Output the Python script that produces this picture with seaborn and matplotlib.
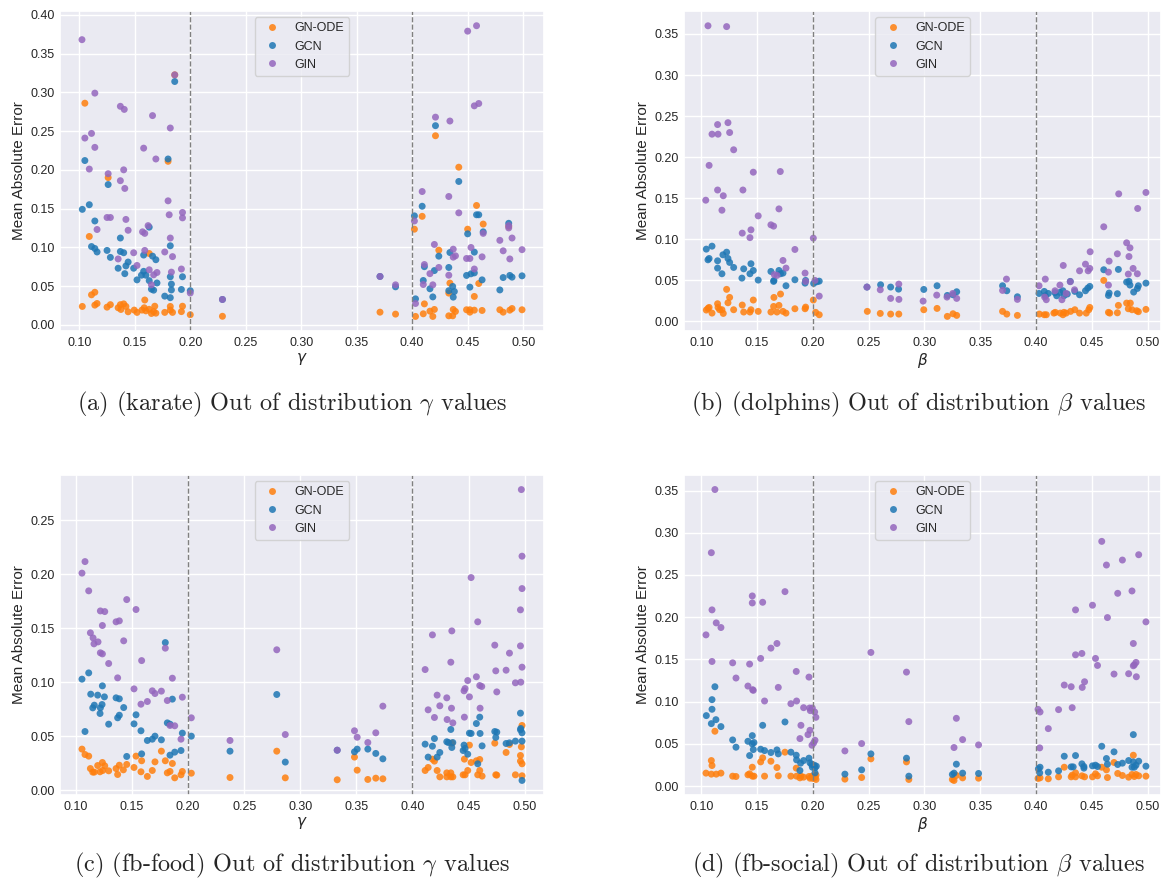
import numpy as np
import pandas as pd
import seaborn as sns
import matplotlib
matplotlib.use('Agg')
from matplotlib import pyplot as plt

# =============================================================================
# data (x = gamma / beta, y = mean absolute error)
# =============================================================================
karate_gnode = [(0.186, 0.3226), (0.105, 0.286), (0.180, 0.211), (0.126, 0.190), (0.109, 0.114), (0.163, 0.092),
                (0.111, 0.0387), (0.114, 0.042), (0.159, 0.032), (0.1027, 0.0237), (0.114, 0.0254), (0.116, 0.0275),
                (0.125, 0.0228), (0.128, 0.026), (0.135, 0.022), (0.137, 0.026), (0.140, 0.027), (0.142, 0.0237),
                (0.1375, 0.0198), (0.144, 0.0168), (0.1495, 0.019), (0.152, 0.016), (0.1565, 0.019), (0.1585, 0.022),
                (0.160, 0.018), (0.163, 0.020), (0.167, 0.017), (0.168, 0.024), (0.169, 0.015), (0.165, 0.0146),
                (0.177, 0.016), (0.182, 0.019), (0.182, 0.0237), (0.184, 0.016), (0.192, 0.017), (0.193, 0.024),
                (0.200, 0.013), (0.229, 0.011),
                (0.421, 0.244), (0.442, 0.2034), (0.458, 0.154), (0.409, 0.140), (0.402, 0.1234), (0.464, 0.130),
                (0.450, 0.1234), (0.487, 0.127), (0.424, 0.0963), (0.434, 0.0538), (0.460, 0.0533), (0.433, 0.0409),
                (0.456, 0.0366), (0.411, 0.027), (0.371, 0.0163), (0.385, 0.0138), (0.403, 0.0108), (0.410, 0.0142),
                (0.416, 0.0176), (0.4186, 0.0108), (0.420, 0.0198), (0.433, 0.0116), (0.4365, 0.0116), (0.437, 0.0198),
                (0.439, 0.0172), (0.449, 0.0194), (0.452, 0.0163), (0.452, 0.0194), (0.456, 0.0189), (0.463, 0.0185),
                (0.479, 0.0194), (0.482, 0.0163), (0.488, 0.0189), (0.490, 0.021), (0.499, 0.0194)]
karate_gcn = [(0.186, 0.314), (0.105, 0.212), (0.180, 0.214), (0.126, 0.181), (0.1027, 0.149), (0.109, 0.155),
              (0.114, 0.134), (0.137, 0.112), (0.111, 0.101), (0.114, 0.0985), (0.116, 0.094), (0.125, 0.096),
              (0.128, 0.087), (0.137, 0.0946), (0.140, 0.093), (0.158, 0.090), (0.166, 0.0886), (0.169, 0.084),
              (0.163, 0.126), (0.182, 0.102), (0.144, 0.081), (0.142, 0.076), (0.135, 0.073), (0.149, 0.073),
              (0.141, 0.066), (0.158, 0.069), (0.156, 0.064), (0.160, 0.064), (0.163, 0.057), (0.170, 0.054),
              (0.152, 0.058), (0.182, 0.062), (0.193, 0.062), (0.183, 0.0525), (0.183, 0.045), (0.192, 0.0456),
              (0.165, 0.046), (0.167, 0.0447), (0.200, 0.044), (0.177, 0.037), (0.182, 0.035), (0.229, 0.0327),
              (0.421, 0.257), (0.442, 0.185), (0.409, 0.153), (0.402, 0.1406), (0.458, 0.142), (0.460, 0.142),
              (0.450, 0.1174), (0.464, 0.120), (0.487, 0.131), (0.456, 0.0938), (0.434, 0.0933), (0.424, 0.0886),
              (0.411, 0.075), (0.420, 0.070), (0.433, 0.074), (0.449, 0.0637), (0.453, 0.0658), (0.456, 0.067),
              (0.463, 0.058), (0.482, 0.061), (0.488, 0.0637), (0.490, 0.0615), (0.499, 0.0632), (0.410, 0.0572),
              (0.416, 0.0465), (0.4365, 0.0495), (0.438, 0.043), (0.433, 0.044), (0.452, 0.0486), (0.479, 0.045),
              (0.4186, 0.036), (0.437, 0.0357), (0.403, 0.0335), (0.371, 0.0624), (0.385, 0.049)]
karate_gin = [(0.1024, 0.368), (0.186, 0.3226), (0.114, 0.299), (0.137, 0.282), (0.1405, 0.278), (0.166, 0.270),
              (0.182, 0.254), (0.105, 0.241), (0.111, 0.247), (0.114, 0.229), (0.158, 0.228), (0.169, 0.214),
              (0.109, 0.201), (0.126, 0.195), (0.140, 0.200), (0.137, 0.186), (0.141, 0.176), (0.180, 0.160),
              (0.193, 0.145), (0.181, 0.142), (0.193, 0.138), (0.125, 0.1385), (0.128, 0.1385), (0.142, 0.136),
              (0.116, 0.123), (0.144, 0.122), (0.162, 0.128), (0.157, 0.120), (0.159, 0.118), (0.182, 0.112),
              (0.159, 0.096), (0.135, 0.085), (0.149, 0.093), (0.177, 0.094), (0.184, 0.088), (0.152, 0.0766),
              (0.163, 0.071), (0.170, 0.0675), (0.167, 0.0645), (0.183, 0.068), (0.192, 0.072), (0.165, 0.0516),
              (0.200, 0.041), (0.229, 0.0327),
              (0.450, 0.379), (0.458, 0.386), (0.456, 0.2826), (0.460, 0.2856), (0.421, 0.268), (0.434, 0.263),
              (0.409, 0.172), (0.433, 0.1656), (0.442, 0.1445), (0.402, 0.134), (0.487, 0.128), (0.487, 0.125),
              (0.464, 0.118), (0.490, 0.112), (0.479, 0.109), (0.420, 0.1037), (0.437, 0.0976), (0.499, 0.097),
              (0.453, 0.0998), (0.482, 0.0955), (0.437, 0.0873), (0.439, 0.089), (0.449, 0.0856), (0.452, 0.0856),
              (0.463, 0.0877), (0.488, 0.085), (0.411, 0.0778), (0.424, 0.074), (0.416, 0.066), (0.456, 0.072),
              (0.433, 0.064), (0.410, 0.052), (0.4186, 0.0516), (0.371, 0.0624), (0.385, 0.0516), (0.403, 0.0275)]

dolphins_gnode = [(0.1227, 0.039), (0.1045, 0.0138), (0.106, 0.0158), (0.107, 0.017), (0.1096, 0.0101), (0.1146, 0.0215),
                  (0.115, 0.017), (0.1164, 0.0142), (0.1185, 0.0142), (0.1197, 0.0097), (0.1239, 0.0227), (0.1254, 0.0292),
                  (0.129, 0.0142), (0.1367, 0.0199), (0.138, 0.0114), (0.1436, 0.0114), (0.1445, 0.0142), (0.1466, 0.026),
                  (0.151, 0.0122), (0.1624, 0.0114), (0.1648, 0.0182), (0.1651, 0.0292), (0.1678, 0.0114), (0.1696, 0.0195),
                  (0.171, 0.0333), (0.1732, 0.0122), (0.1759, 0.0101), (0.1839, 0.0154), (0.193, 0.0154), (0.1935, 0.0174),
                  (0.2004, 0.026), (0.2025, 0.011), (0.2057, 0.0081), (0.2488, 0.0122), (0.2604, 0.0097), (0.2697, 0.0089),
                  (0.277, 0.0089), (0.3113, 0.0158), (0.2994, 0.0142), (0.3205, 0.0061), (0.3256, 0.0093), (0.3289, 0.0073),
                  (0.370, 0.0122), (0.3738, 0.0089), (0.3833, 0.0073), (0.403, 0.0089), (0.4074, 0.0081), (0.4092, 0.0081),
                  (0.416, 0.0101), (0.4173, 0.011), (0.4217, 0.0101), (0.4241, 0.0081), (0.425, 0.011), (0.427, 0.0101),
                  (0.431, 0.0122), (0.4348, 0.0142), (0.439, 0.0101), (0.445, 0.0101), (0.4473, 0.0142), (0.4482, 0.017),
                  (0.4607, 0.0499), (0.4649, 0.011), (0.4661, 0.0101), (0.4729, 0.0105), (0.4738, 0.0195), (0.4812, 0.0223),
                  (0.4845, 0.0223), (0.4827, 0.0154), (0.486, 0.0142), (0.4902, 0.013), (0.4917, 0.0118), (0.4985, 0.0146)]
dolphins_gcn = [(0.1045, 0.088), (0.1096, 0.0916), (0.106, 0.075), (0.107, 0.0766), (0.1146, 0.0738), (0.1146, 0.0649),
                (0.1185, 0.058), (0.1194, 0.0811), (0.1227, 0.0843), (0.1239, 0.0766), (0.1254, 0.0718), (0.129, 0.0657),
                (0.138, 0.064), (0.1364, 0.0527), (0.1445, 0.0702), (0.1466, 0.062), (0.1436, 0.058), (0.151, 0.0503),
                (0.1624, 0.0608), (0.1651, 0.0499), (0.1648, 0.0487), (0.1696, 0.062), (0.171, 0.058), (0.1732, 0.0588),
                (0.1759, 0.0434), (0.1839, 0.0507), (0.193, 0.0466), (0.1935, 0.0499), (0.2007, 0.0462), (0.2037, 0.0483),
                (0.2057, 0.049), (0.2485, 0.0418), (0.2607, 0.0446), (0.2697, 0.0418), (0.2768, 0.0393),
                (0.2994, 0.0389), (0.3113, 0.0434), (0.3205, 0.0316), (0.3256, 0.0324), (0.3289, 0.0361), (0.370, 0.0434),
                (0.3738, 0.0373), (0.3833, 0.030), (0.4027, 0.034), (0.4074, 0.0365), (0.4083, 0.0312), (0.411, 0.034),
                (0.417, 0.0349), (0.4185, 0.0312), (0.4214, 0.0353), (0.4241, 0.0373), (0.425, 0.0312), (0.428, 0.0333),
                (0.4307, 0.0487), (0.4348, 0.0365), (0.439, 0.0324), (0.4443, 0.0373), (0.4464, 0.0405), (0.4482, 0.0426),
                (0.4607, 0.0629), (0.4649, 0.0316), (0.4655, 0.0345), (0.4738, 0.0633), (0.4729, 0.0337), (0.4812, 0.0479),
                (0.4833, 0.0487), (0.4842, 0.0442), (0.4875, 0.0357), (0.4908, 0.0401), (0.4917, 0.0434), (0.4985, 0.0466)]
dolphins_gin = [(0.106, 0.360), (0.1227, 0.359), (0.1146, 0.2397), (0.1239, 0.242), (0.1096, 0.228), (0.115, 0.228),
                (0.1254, 0.230), (0.129, 0.209), (0.107, 0.190), (0.1466, 0.1817), (0.1708, 0.1825), (0.1146, 0.160),
                (0.1197, 0.153), (0.1373, 0.160), (0.104, 0.1476), (0.1185, 0.1354), (0.151, 0.1285), (0.1696, 0.137),
                (0.1624, 0.1176), (0.1648, 0.116), (0.1367, 0.1075), (0.1445, 0.1115), (0.1436, 0.102), (0.2004, 0.1014),
                (0.1839, 0.0876), (0.1732, 0.0742), (0.1759, 0.0649), (0.1654, 0.057), (0.1678, 0.056), (0.193, 0.0588),
                (0.1935, 0.0487), (0.2057, 0.0308), (0.2019, 0.0499), (0.2485, 0.0418), (0.2604, 0.0385), (0.2697, 0.028),
                (0.2771, 0.0268), (0.277, 0.0454),
                (0.2988, 0.0247), (0.311, 0.032), (0.3202, 0.0296), (0.3253, 0.034), (0.3289, 0.028), (0.3735, 0.0515),
                (0.370, 0.0377), (0.3833, 0.0268), (0.4027, 0.0434), (0.4083, 0.0515), (0.4077, 0.0296), (0.4092, 0.0264),
                (0.417, 0.0373), (0.4214, 0.0442), (0.4244, 0.0681), (0.4232, 0.0264), (0.427, 0.034), (0.4307, 0.0483),
                (0.4345, 0.0385), (0.439, 0.0616), (0.4443, 0.0697), (0.4467, 0.0616), (0.4482, 0.0645), (0.4485, 0.0848),
                (0.4607, 0.1152), (0.4655, 0.0734), (0.4649, 0.060), (0.4649, 0.0442), (0.4729, 0.0823), (0.4741, 0.1553),
                (0.4812, 0.0957), (0.4842, 0.0896), (0.4833, 0.079), (0.487, 0.0645), (0.4908, 0.058), (0.4827, 0.0576),
                (0.4911, 0.1375), (0.4985, 0.157)]

food_gnode = [(0.1053, 0.038), (0.108, 0.033), (0.1113, 0.0315), (0.1128, 0.020), (0.1149, 0.0167), (0.1163, 0.0167),
              (0.1193, 0.0228), (0.1214, 0.017), (0.1235, 0.0256), (0.1256, 0.0225), (0.1238, 0.0182), (0.1291, 0.0179),
              (0.1357, 0.020), (0.1386, 0.0231), (0.1371, 0.0145), (0.1422, 0.0188), (0.1452, 0.0238), (0.1517, 0.021),
              (0.1535, 0.0315), (0.1585, 0.0272), (0.1579, 0.017), (0.1636, 0.0127), (0.168, 0.0182), (0.1704, 0.0262),
              (0.1761, 0.0361), (0.1796, 0.0272), (0.1814, 0.016), (0.1838, 0.0173), (0.1859, 0.0247), (0.188, 0.0114),
              (0.1936, 0.0142), (0.1948, 0.0173), (0.2028, 0.0157), (0.2373, 0.0117),
              (0.279, 0.0361), (0.2866, 0.0114), (0.3329, 0.0096), (0.3483, 0.0306), (0.3507, 0.0185), (0.3602, 0.0099),
              (0.3673, 0.0111), (0.3736, 0.0105),
              (0.4113, 0.0182), (0.414, 0.021), (0.4178, 0.0287), (0.4196, 0.0269), (0.422, 0.0182), (0.4244, 0.0123),
              (0.4306, 0.016), (0.4306, 0.0123), (0.4342, 0.016), (0.4342, 0.0123), (0.436, 0.0123), (0.4351, 0.0435),
              (0.4452, 0.0142), (0.4469, 0.0142), (0.4493, 0.0182), (0.4463, 0.0287), (0.4508, 0.0417), (0.4523, 0.0256),
              (0.457, 0.0272), (0.46, 0.0284), (0.4582, 0.0142), (0.4621, 0.013), (0.46, 0.0182), (0.4734, 0.0435),
              (0.4743, 0.0142), (0.4752, 0.0139), (0.4835, 0.0349), (0.4865, 0.0423), (0.4918, 0.0142), (0.4963, 0.0321),
              (0.4963, 0.0269), (0.4977, 0.0244), (0.4977, 0.0133), (0.4971, 0.0401), (0.4977, 0.0599)]
food_gcn = [(0.1796, 0.1367), (0.1113, 0.1086), (0.1053, 0.1028), (0.1235, 0.0966), (0.1131, 0.0889), (0.1193, 0.088),
            (0.1253, 0.0864), (0.1163, 0.0787), (0.1149, 0.0762), (0.1232, 0.0793), (0.1217, 0.0762), (0.1214, 0.071),
            (0.1357, 0.0855), (0.1386, 0.0846), (0.1425, 0.0765), (0.1386, 0.0694), (0.1371, 0.067), (0.1859, 0.0843),
            (0.1535, 0.0698), (0.1291, 0.0611), (0.1517, 0.0614), (0.108, 0.0543), (0.1579, 0.055), (0.1814, 0.0623),
            (0.1838, 0.0611), (0.1636, 0.046), (0.168, 0.0472), (0.1704, 0.050), (0.1761, 0.0466), (0.1948, 0.0528),
            (0.2028, 0.050), (0.1452, 0.0312), (0.1585, 0.0336), (0.1838, 0.0324), (0.188, 0.0352), (0.1936, 0.0367),
            (0.2373, 0.0361),
            (0.279, 0.0886), (0.2866, 0.026), (0.3329, 0.037), (0.3483, 0.0355), (0.3507, 0.038), (0.3602, 0.038),
            (0.3673, 0.034), (0.3736, 0.029),
            (0.4113, 0.0426), (0.414, 0.0306), (0.4178, 0.0407), (0.4196, 0.0478), (0.422, 0.0306), (0.4244, 0.0349),
            (0.4306, 0.0448), (0.4321, 0.0441), (0.4342, 0.0562), (0.4351, 0.0395), (0.436, 0.0441), (0.446, 0.0417),
            (0.4452, 0.0367), (0.4469, 0.0386), (0.4493, 0.0333), (0.4508, 0.0528), (0.4523, 0.0525), (0.457, 0.0617),
            (0.4582, 0.0244), (0.46, 0.0676), (0.4603, 0.0525), (0.4621, 0.041), (0.4734, 0.0543), (0.4752, 0.0537),
            (0.4743, 0.0488), (0.4835, 0.0432), (0.4865, 0.0438), (0.4918, 0.0454), (0.4963, 0.0713), (0.4963, 0.0559),
            (0.4966, 0.0571), (0.4977, 0.0531), (0.4977, 0.0454), (0.4977, 0.009)]
food_gin = [(0.108, 0.2117), (0.1053, 0.201), (0.1113, 0.1846), (0.1452, 0.1765), (0.1217, 0.166), (0.1256, 0.1654),
            (0.1535, 0.1673), (0.1357, 0.1559), (0.1386, 0.1568), (0.1235, 0.1525), (0.1128, 0.1457), (0.1152, 0.141),
            (0.1196, 0.1373), (0.116, 0.1355), (0.1425, 0.1383), (0.1217, 0.1272), (0.1235, 0.1262), (0.1796, 0.1315),
            (0.1291, 0.1173), (0.1585, 0.120), (0.1371, 0.104), (0.1859, 0.1037), (0.1517, 0.0938), (0.168, 0.092),
            (0.1704, 0.0895), (0.1761, 0.0917), (0.1579, 0.0796), (0.1636, 0.0821), (0.1814, 0.083), (0.1948, 0.0861),
            (0.2028, 0.067), (0.1838, 0.0599), (0.188, 0.0596), (0.1936, 0.0472), (0.2373, 0.046),
            (0.279, 0.130), (0.2866, 0.0515), (0.3329, 0.037), (0.3483, 0.055), (0.3507, 0.049), (0.3602, 0.0441),
            (0.3673, 0.0531), (0.3736, 0.0778),
            (0.4113, 0.1117), (0.414, 0.0744), (0.4178, 0.1438), (0.4196, 0.0673), (0.422, 0.088), (0.4244, 0.0781),
            (0.4306, 0.0855), (0.4309, 0.0654), (0.4342, 0.1185), (0.4351, 0.1475), (0.4348, 0.0759), (0.436, 0.0623),
            (0.446, 0.092), (0.4469, 0.0941), (0.4463, 0.0676), (0.4493, 0.1015), (0.4508, 0.0864), (0.4523, 0.1969),
            (0.457, 0.105), (0.4582, 0.1559), (0.46, 0.0969), (0.4618, 0.096), (0.4603, 0.0759), (0.4734, 0.1343),
            (0.4743, 0.1105), (0.4752, 0.091), (0.4835, 0.1111), (0.4865, 0.1269), (0.4918, 0.0994), (0.4963, 0.1336),
            (0.4963, 0.167), (0.4971, 0.2784), (0.4977, 0.2167), (0.4977, 0.1867), (0.4977, 0.1139), (0.4966, 0.100)]

social_gnode = [(0.1122, 0.065), (0.109, 0.0303), (0.1096, 0.0244), (0.1042, 0.0154), (0.109, 0.0142), (0.1134, 0.0142),
                (0.1176, 0.0154), (0.1281, 0.0118), (0.1311, 0.0114), (0.1418, 0.0134), (0.1433, 0.0146), (0.1457, 0.0118),
                (0.1472, 0.0118), (0.1457, 0.0224), (0.1532, 0.0287), (0.155, 0.0335), (0.1567, 0.0118), (0.1624, 0.0295),
                (0.1678, 0.022), (0.169, 0.0122), (0.175, 0.0402), (0.1803, 0.0118), (0.1851, 0.0213), (0.1854, 0.0118),
                (0.1884, 0.0098), (0.1893, 0.0118), (0.1917, 0.0106), (0.1965, 0.0114), (0.1974, 0.0094), (0.1992, 0.0118),
                (0.2001, 0.0091), (0.2019, 0.0102), (0.2028, 0.013), (0.2028, 0.0079), (0.2287, 0.0083), (0.2437, 0.0102),
                (0.252, 0.0323), (0.2839, 0.0287), (0.286, 0.0079), (0.325, 0.0079), (0.3286, 0.0126), (0.3265, 0.0067),
                (0.3342, 0.0098), (0.3485, 0.0094),
                (0.4018, 0.0091), (0.4036, 0.0098), (0.411, 0.0087), (0.4202, 0.011), (0.4253, 0.0224), (0.4315, 0.011),
                (0.4324, 0.013), (0.4354, 0.0157), (0.4354, 0.011), (0.4411, 0.0122), (0.4435, 0.011), (0.4506, 0.011),
                (0.4533, 0.0146), (0.4551, 0.0122), (0.4589, 0.0224), (0.4631, 0.0193), (0.464, 0.0102), (0.4699, 0.028),
                (0.4732, 0.015), (0.4774, 0.0126), (0.483, 0.0106), (0.486, 0.0138), (0.4872, 0.0366), (0.4881, 0.0114),
                (0.4896, 0.0138), (0.492, 0.0122), (0.4985, 0.0118)]
social_gcn = [(0.1122, 0.1177), (0.1096, 0.1024), (0.1096, 0.091), (0.1045, 0.0835), (0.109, 0.074), (0.1131, 0.0787),
              (0.1176, 0.0705), (0.175, 0.076), (0.155, 0.072), (0.1457, 0.0598), (0.1281, 0.0547), (0.1418, 0.0531),
              (0.1457, 0.050), (0.1472, 0.0516), (0.1311, 0.0461), (0.1466, 0.0433), (0.1433, 0.0362), (0.1532, 0.0437),
              (0.1567, 0.0421), (0.1624, 0.0398), (0.1678, 0.0429), (0.169, 0.0382), (0.1803, 0.0402), (0.1851, 0.0366),
              (0.1854, 0.0311), (0.189, 0.0272), (0.1917, 0.0303), (0.1884, 0.0185), (0.1965, 0.0331), (0.1974, 0.0276),
              (0.1989, 0.0256), (0.1995, 0.0224), (0.2013, 0.0248), (0.2019, 0.0217), (0.2031, 0.0236), (0.2019, 0.0157),
              (0.2287, 0.0142), (0.2437, 0.0193), (0.252, 0.0382), (0.2839, 0.0331), (0.286, 0.0118), (0.3286, 0.026),
              (0.3265, 0.0154), (0.325, 0.0138), (0.3342, 0.0154), (0.3485, 0.015),
              (0.4021, 0.0205), (0.4036, 0.0224), (0.4033, 0.0157), (0.411, 0.0165), (0.4202, 0.0181), (0.4253, 0.0354),
              (0.4315, 0.0228), (0.4333, 0.0228), (0.4354, 0.0362), (0.4411, 0.0264), (0.4429, 0.0232), (0.4429, 0.0213),
              (0.4506, 0.024), (0.4533, 0.0248), (0.4551, 0.0232), (0.4589, 0.0472), (0.4631, 0.0327), (0.464, 0.026),
              (0.4699, 0.0406), (0.4732, 0.0256), (0.4774, 0.0272), (0.483, 0.0303), (0.486, 0.0224), (0.4872, 0.0287),
              (0.4872, 0.061), (0.4881, 0.0224), (0.4896, 0.0248), (0.492, 0.0295), (0.4985, 0.0236)]
social_gin = [(0.1122, 0.3512), (0.109, 0.2764), (0.1457, 0.2252), (0.1457, 0.2169), (0.155, 0.2177), (0.175, 0.2303),
              (0.1096, 0.2087), (0.1134, 0.1933), (0.1176, 0.1878), (0.1042, 0.1791), (0.1678, 0.1689), (0.1624, 0.1634),
              (0.1096, 0.1476), (0.1281, 0.146), (0.1433, 0.1445), (0.1532, 0.1512), (0.1851, 0.1358), (0.1965, 0.1291),
              (0.1311, 0.128), (0.1418, 0.1185), (0.1466, 0.1134), (0.146, 0.1142), (0.169, 0.1169), (0.1567, 0.1008),
              (0.1803, 0.0976), (0.1854, 0.1008), (0.1917, 0.0929), (0.1977, 0.0894), (0.1995, 0.0925), (0.2016, 0.0878),
              (0.1971, 0.0925), (0.2027, 0.0815), (0.1893, 0.072), (0.1974, 0.0661), (0.1956, 0.061), (0.1884, 0.0563),
              (0.2019, 0.0543), (0.2007, 0.0512), (0.1992, 0.0484), (0.2287, 0.0417), (0.2437, 0.0504), (0.252, 0.1583),
              (0.2839, 0.135), (0.286, 0.0764), (0.3286, 0.0803), (0.3265, 0.0457), (0.3342, 0.0551), (0.3485, 0.0488),
              (0.4018, 0.0909), (0.4036, 0.0878), (0.4033, 0.0453), (0.411, 0.0681), (0.4202, 0.0906), (0.4253, 0.1197),
              (0.4315, 0.1177), (0.4324, 0.0929), (0.4354, 0.1555), (0.4354, 0.2087), (0.4411, 0.1571), (0.4414, 0.1169),
              (0.4435, 0.1236), (0.4506, 0.2142), (0.4533, 0.1512), (0.4551, 0.1429), (0.4589, 0.2898), (0.4631, 0.2618),
              (0.464, 0.1996), (0.4699, 0.1327), (0.4732, 0.2283), (0.4774, 0.2677), (0.483, 0.1331), (0.486, 0.2311),
              (0.4872, 0.1689), (0.4872, 0.1425), (0.4881, 0.1437), (0.4896, 0.1465), (0.4899, 0.1295), (0.492, 0.274),
              (0.4985, 0.1945)]

models = ['GN-ODE', 'GCN', 'GIN']
palette = {'GN-ODE': '#ff7f0e', 'GCN': '#1f77b4', 'GIN': '#9467bd'}

captions = ['(a) (karate) Out of distribution $\\gamma$ values',
            '(b) (dolphins) Out of distribution $\\beta$ values',
            '(c) (fb-food) Out of distribution $\\gamma$ values',
            '(d) (fb-social) Out of distribution $\\beta$ values']
xlabels = ['$\\gamma$', '$\\beta$', '$\\gamma$', '$\\beta$']
ytick_max = [0.40, 0.35, 0.25, 0.35]
panels = [(karate_gnode, karate_gcn, karate_gin),
          (dolphins_gnode, dolphins_gcn, dolphins_gin),
          (food_gnode, food_gcn, food_gin),
          (social_gnode, social_gcn, social_gin)]

# =============================================================================
# plot
# =============================================================================
sns.set_theme(style='darkgrid')
plt.rcParams['font.family'] = ['Liberation Sans', 'DejaVu Sans']

W, H = 1164, 881
fig = plt.figure(figsize=(W / 100, H / 100), dpi=100)

# axes boxes in pixels: left, top, right, bottom
boxes = [(60, 11, 544, 331), (684, 11, 1161, 331), (60, 475, 544, 795), (684, 475, 1161, 795)]
xlims = [(0.0826, 0.5188), (0.0845, 0.512), (0.0857, 0.5173), (0.0845, 0.512)]
ylims = [(-0.008, 0.405), (-0.0117, 0.378), (-0.0045, 0.2919), (-0.0105, 0.3684)]
cap_pos = [(0.251, 0.541), (0.789, 0.541), (0.251, 0.0175), (0.789, 0.0175)]

for i, (gnode, gcn, gin) in enumerate(panels):
    l, t, r, b = boxes[i]
    ax = fig.add_axes([l / W, 1 - b / H, (r - l) / W, (b - t) / H])
    df = pd.concat([pd.DataFrame(gnode, columns=['x', 'mae']).assign(model='GN-ODE'),
                    pd.DataFrame(gcn, columns=['x', 'mae']).assign(model='GCN'),
                    pd.DataFrame(gin, columns=['x', 'mae']).assign(model='GIN')], ignore_index=True)
    sns.scatterplot(data=df, x='x', y='mae', hue='model', hue_order=models, palette=palette,
                    s=25, linewidth=0, alpha=0.85, ax=ax)
    ax.axvline(0.2, color='grey', linestyle='--', linewidth=1)
    ax.axvline(0.4, color='grey', linestyle='--', linewidth=1)
    ax.set_xlim(*xlims[i])
    ax.set_ylim(*ylims[i])
    ax.set_xticks(np.round(np.arange(0.10, 0.501, 0.05), 2))
    ax.set_yticks(np.round(np.arange(0.0, ytick_max[i] + 0.001, 0.05), 2))
    ax.tick_params(labelsize=9, length=0, pad=4)
    ax.set_xlabel(xlabels[i], fontsize=11, labelpad=2)
    ax.set_ylabel('Mean Absolute Error', fontsize=11, labelpad=3)
    ax.legend(loc='upper center', fontsize=9)
    fig.text(cap_pos[i][0], cap_pos[i][1], captions[i], ha='center', va='center',
             family='cmr10', math_fontfamily='cm', fontsize=17.5)

fig.savefig('out.png', dpi=100)
